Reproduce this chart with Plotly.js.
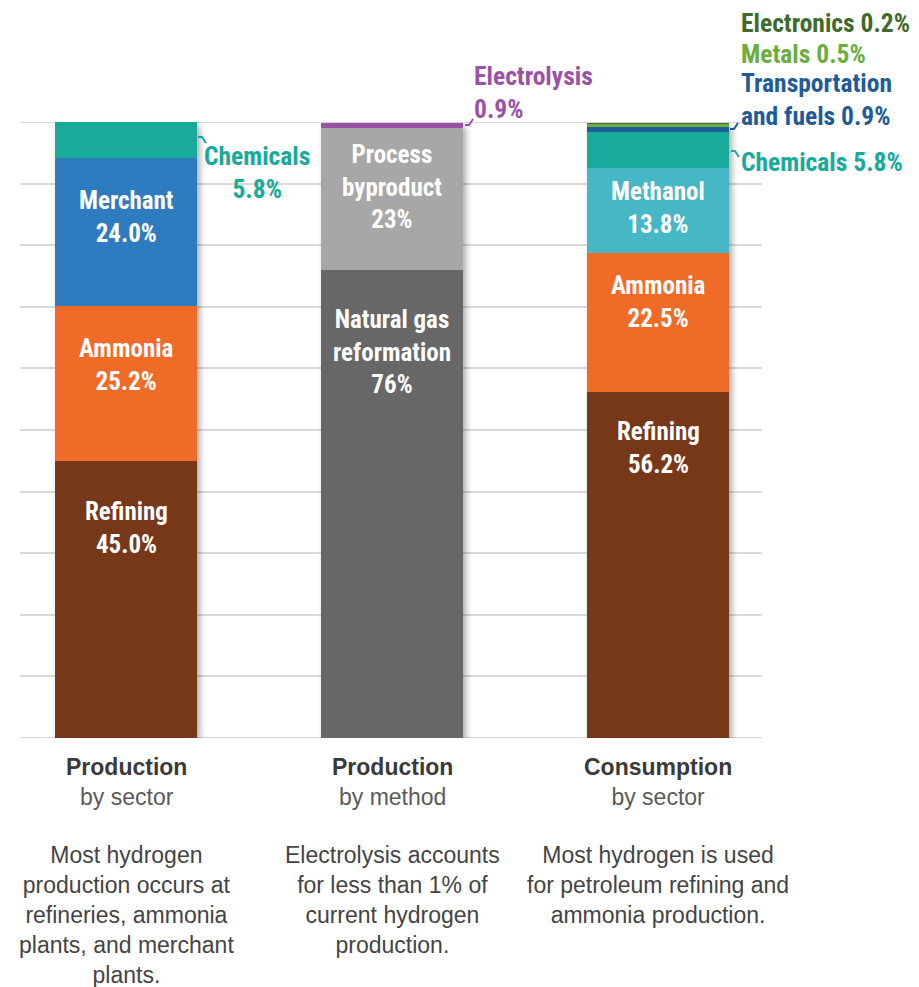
<!DOCTYPE html>
<html>
<head>
<meta charset="utf-8">
<script src="https://cdn.plot.ly/plotly-3.0.1.min.js"></script>
<style>
html,body{margin:0;padding:0;background:#fff;}
#chart{width:919px;height:987px;}
#chart .barlayer{filter:drop-shadow(3px 4px 3px rgba(0,0,0,0.32));}
</style>
</head>
<body>
<div id="chart"></div>
<script>
// ---- data ----
const categoryTitles = ['Production', 'Production', 'Consumption'];
const categorySubtitles = ['by sector', 'by method', 'by sector'];
const categoryNotes = [
  'Most hydrogen<br>production occurs at<br>refineries, ammonia<br>plants, and merchant<br>plants.',
  'Electrolysis accounts<br>for less than 1% of<br>current hydrogen<br>production.',
  'Most hydrogen is used<br>for petroleum refining and<br>ammonia production.'
];

const prodSectorLabels = ['Refining', 'Ammonia', 'Merchant', 'Chemicals'];
const prodSectorValues = [45.0, 25.2, 24.0, 5.8];

const prodMethodLabels = ['Natural gas reformation', 'Process byproduct', 'Electrolysis'];
const prodMethodValues = [76, 23, 0.9];

const consSectorLabels = ['Refining', 'Ammonia', 'Methanol', 'Chemicals', 'Transportation and fuels', 'Metals', 'Electronics'];
const consSectorValues = [56.2, 22.5, 13.8, 5.8, 0.9, 0.5, 0.2];

// ---- styles ----
const colors = {
  'Refining': '#773819',
  'Ammonia': '#f06b27',
  'Merchant': '#2f7bc0',
  'Chemicals': '#18aa9b',
  'Natural gas reformation': '#676767',
  'Process byproduct': '#a7a7a7',
  'Electrolysis': '#9a52a6',
  'Methanol': '#45b7c5',
  'Transportation and fuels': '#1f5b98',
  'Metals': '#6aae3f',
  'Electronics': '#3e6a2b'
};
const FONT = '"Liberation Sans Narrow", "Arial Narrow", "Roboto Condensed", Roboto, Arial, sans-serif';
const FONT_TEXT = '"Liberation Sans", Arial, Helvetica, sans-serif';
const BAR_W = 0.534;
const GRID = '#d9d9d9';

const groups = [
  {labels: prodSectorLabels, values: prodSectorValues, fixed: true},
  {labels: prodMethodLabels, values: prodMethodValues, fixed: false},
  {labels: consSectorLabels, values: consSectorValues, fixed: true}
];

const traces = [];
groups.forEach((g, gi) => {
  g.labels.forEach((lab, i) => {
    traces.push({
      type: 'bar',
      x: [gi],
      y: [g.values[i]],
      name: lab,
      width: BAR_W,
      marker: {color: colors[lab], line: {width: 0}},
      hoverinfo: 'name+y',
      showlegend: false
    });
  });
});

function pct(g, i) { const v = g.values[i]; return (g.fixed ? v.toFixed(1) : String(v)) + '%'; }

const annotations = [];
function inside(gi, text, y) {
  annotations.push({
    x: gi, y: y, xref: 'x', yref: 'y', showarrow: false,
    xanchor: 'center', yanchor: 'middle', align: 'center',
    text: '<b>' + text + '</b>',
    font: {family: FONT, size: 25, color: '#ffffff'}
  });
}
const g0 = groups[0], g1 = groups[1], g2 = groups[2];
inside(0, 'Merchant<br>' + pct(g0, 2), 84.6);
inside(0, 'Ammonia<br>' + pct(g0, 1), 60.6);
inside(0, 'Refining<br>' + pct(g0, 0), 34.1);
inside(1, 'Process<br>byproduct<br>' + pct(g1, 1), 89.4);
inside(1, 'Natural gas<br>reformation<br>' + pct(g1, 0), 62.7);
inside(2, 'Methanol<br>' + pct(g2, 2), 86.0);
inside(2, 'Ammonia<br>' + pct(g2, 1), 70.8);
inside(2, 'Refining<br>' + pct(g2, 0), 47.1);

// paper coordinates from pixel positions
const px = v => (v - 20) / 742;
const py = v => (738 - v) / 616;

function outside(text, xp, yp, color, align, xanchor) {
  annotations.push({
    x: px(xp), y: py(yp), xref: 'paper', yref: 'paper', showarrow: false,
    xanchor: xanchor, yanchor: 'middle', align: align,
    text: '<b>' + text + '</b>',
    font: {family: FONT, size: 25.5, color: color}
  });
}
outside('Chemicals<br>' + pct(g0, 3), 257, 172, colors['Chemicals'], 'center', 'center');
outside('Electrolysis<br>' + pct(g1, 2), 472, 92, colors['Electrolysis'], 'left', 'left');
outside('Electronics ' + pct(g2, 6), 739, 23, colors['Electronics'], 'left', 'left');
outside('Metals ' + pct(g2, 5), 739, 54, colors['Metals'], 'left', 'left');
outside('Transportation<br>and fuels ' + pct(g2, 4), 739, 100, colors['Transportation and fuels'], 'left', 'left');
outside('Chemicals ' + pct(g2, 3), 739, 162, colors['Chemicals'], 'left', 'left');

// category labels under the bars
groups.forEach((g, gi) => {
  annotations.push({
    x: gi, y: 0, xref: 'x', yref: 'paper', yshift: -14, showarrow: false,
    xanchor: 'center', yanchor: 'top', align: 'center',
    text: '<b>' + categoryTitles[gi] + '</b><br><span style="color:#5a5a5a">' + categorySubtitles[gi] + '</span>',
    font: {family: FONT_TEXT, size: 23, color: '#3a3a3a'}
  });
  annotations.push({
    x: gi, y: 0, xref: 'x', yref: 'paper', yshift: -102, showarrow: false,
    xanchor: 'center', yanchor: 'top', align: 'center',
    text: categoryNotes[gi],
    font: {family: FONT_TEXT, size: 23, color: '#444444'}
  });
});

// leader hooks and the edge gridlines
const hook = (pts, color) => ({
  type: 'path', xref: 'paper', yref: 'paper',
  path: pts.map((p, k) => (k ? 'L' : 'M') + px(p[0]) + ',' + py(p[1])).join(' '),
  line: {color: color, width: 2}
});
const shapes = [
  {type: 'line', xref: 'paper', yref: 'y', x0: 0, x1: 1, y0: 100, y1: 100, layer: 'below', line: {color: GRID, width: 2}},
  {type: 'line', xref: 'paper', yref: 'y', x0: 0, x1: 1, y0: 0, y1: 0, layer: 'below', line: {color: GRID, width: 2}},
  hook([[198, 137], [202, 137], [206, 143]], colors['Chemicals']),
  hook([[465, 125], [469, 125], [473, 119]], colors['Electrolysis']),
  hook([[730, 129], [734, 129], [738, 123]], colors['Transportation and fuels']),
  hook([[731, 151], [735, 151], [739, 157]], colors['Chemicals'])
];

const layout = {
  width: 919, height: 987,
  margin: {l: 20, r: 157, t: 122, b: 249},
  paper_bgcolor: '#ffffff', plot_bgcolor: '#ffffff',
  barmode: 'stack',
  showlegend: false,
  xaxis: {range: [-0.4, 2.39], showticklabels: false, showgrid: false, zeroline: false, showline: false, ticks: '', fixedrange: true},
  yaxis: {range: [0, 100], dtick: 10, showticklabels: false, showgrid: true, gridcolor: GRID, gridwidth: 2, zeroline: false, showline: false, ticks: '', fixedrange: true},
  annotations: annotations,
  shapes: shapes,
  font: {family: FONT}
};

Plotly.newPlot('chart', traces, layout, {displayModeBar: false, staticPlot: true});
</script>
</body>
</html>
